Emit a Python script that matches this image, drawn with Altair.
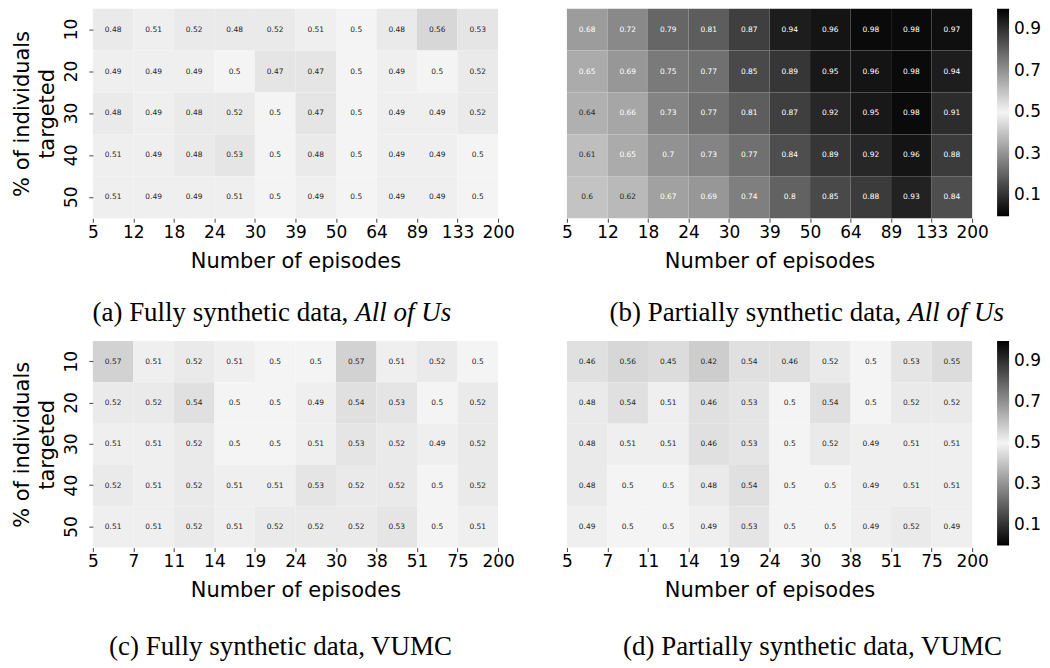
import altair as alt
import pandas as pd

row_labels = ["10", "20", "30", "40", "50"]

x_labels_top = ["5", "12", "18", "24", "30", "39", "50", "64", "89", "133", "200"]
x_labels_bottom = ["5", "7", "11", "14", "19", "24", "30", "38", "51", "75", "200"]

vals_a = [
    [0.48, 0.51, 0.52, 0.48, 0.52, 0.51, 0.5, 0.48, 0.56, 0.53],
    [0.49, 0.49, 0.49, 0.5, 0.47, 0.47, 0.5, 0.49, 0.5, 0.52],
    [0.48, 0.49, 0.48, 0.52, 0.5, 0.47, 0.5, 0.49, 0.49, 0.52],
    [0.51, 0.49, 0.48, 0.53, 0.5, 0.48, 0.5, 0.49, 0.49, 0.5],
    [0.51, 0.49, 0.49, 0.51, 0.5, 0.49, 0.5, 0.49, 0.49, 0.5],
]
vals_b = [
    [0.68, 0.72, 0.79, 0.81, 0.87, 0.94, 0.96, 0.98, 0.98, 0.97],
    [0.65, 0.69, 0.75, 0.77, 0.85, 0.89, 0.95, 0.96, 0.98, 0.94],
    [0.64, 0.66, 0.73, 0.77, 0.81, 0.87, 0.92, 0.95, 0.98, 0.91],
    [0.61, 0.65, 0.7, 0.73, 0.77, 0.84, 0.89, 0.92, 0.96, 0.88],
    [0.6, 0.62, 0.67, 0.69, 0.74, 0.8, 0.85, 0.88, 0.93, 0.84],
]
vals_c = [
    [0.57, 0.51, 0.52, 0.51, 0.5, 0.5, 0.57, 0.51, 0.52, 0.5],
    [0.52, 0.52, 0.54, 0.5, 0.5, 0.49, 0.54, 0.53, 0.5, 0.52],
    [0.51, 0.51, 0.52, 0.5, 0.5, 0.51, 0.53, 0.52, 0.49, 0.52],
    [0.52, 0.51, 0.52, 0.51, 0.51, 0.53, 0.52, 0.52, 0.5, 0.52],
    [0.51, 0.51, 0.52, 0.51, 0.52, 0.52, 0.52, 0.53, 0.5, 0.51],
]
vals_d = [
    [0.46, 0.56, 0.45, 0.42, 0.54, 0.46, 0.52, 0.5, 0.53, 0.55],
    [0.48, 0.54, 0.51, 0.46, 0.53, 0.5, 0.54, 0.5, 0.52, 0.52],
    [0.48, 0.51, 0.51, 0.46, 0.53, 0.5, 0.52, 0.49, 0.51, 0.51],
    [0.48, 0.5, 0.5, 0.48, 0.54, 0.5, 0.5, 0.49, 0.51, 0.51],
    [0.49, 0.5, 0.5, 0.49, 0.53, 0.5, 0.5, 0.49, 0.52, 0.49],
]

legend_values = [0.1, 0.3, 0.5, 0.7, 0.9]

SANS = "DejaVu Sans"
SERIF = "Liberation Serif"
W = 406


def panel(vals, xlabels, height, show_y, show_legend, cap_parts, cap_x, cap_y):
    recs = []
    for r, rowvals in zip(row_labels, vals):
        for c, v in enumerate(rowvals):
            recs.append({"row": r, "col": c, "v": v})
    df = pd.DataFrame(recs)
    label_expr = "[" + ",".join("'%s'" % l for l in xlabels) + "][datum.value]"

    x = alt.X(
        "col:Q",
        scale=alt.Scale(domain=[0, len(xlabels) - 1], nice=False, zero=False),
        axis=alt.Axis(
            values=list(range(len(xlabels))),
            labelExpr=label_expr,
            title="Number of episodes",
            labelFlush=False,
            grid=False,
            domain=False,
            tickSize=4,
            tickColor="#444",
            labelPadding=2,
            labelFontSize=17,
            titleFontSize=21,
            titlePadding=10,
        ),
    )
    if show_y:
        yaxis = alt.Axis(
            title=["% of individuals", "targeted"],
            labelAngle=270,
            domain=False,
            tickSize=4,
            tickColor="#444",
            labelPadding=8,
            labelFontSize=17,
            titleFontSize=21,
            titleLineHeight=25,
            titlePadding=5,
        )
    else:
        yaxis = None
    y = alt.Y("row:O", sort=row_labels, scale=alt.Scale(paddingInner=0, paddingOuter=0), axis=yaxis)

    if show_legend:
        legend = alt.Legend(
            title=None,
            orient="right",
            direction="vertical",
            values=legend_values,
            gradientLength=height - 2,
            gradientThickness=12,
            gradientStrokeWidth=0,
            labelFontSize=17,
            labelFont=SANS,
            labelColor="black",
            labelOffset=5,
            labelOverlap=False,
            offset=25,
            padding=0,
        )
    else:
        legend = None

    color = alt.Color(
        "v:Q",
        scale=alt.Scale(domain=[0, 0.5, 1], range=["#000000", "#f4f4f4", "#000000"], interpolate="rgb"),
        legend=legend,
    )

    base = alt.Chart(df).transform_calculate(col2="datum.col + 1", xc="datum.col + 0.5")
    rect = base.mark_rect().encode(x=x, x2="col2:Q", y=y, color=color)
    txt = base.mark_text(fontSize=7.5, font=SANS).encode(
        x="xc:Q",
        y=alt.Y("row:O", sort=row_labels),
        text=alt.Text("v:Q", format=".2~f"),
        color=alt.condition("abs(datum.v - 0.5) > 0.145", alt.value("white"), alt.value("#262626")),
    )
    layers = [rect, txt]
    if len(cap_parts) == 2:
        plain = alt.Chart(pd.DataFrame({"t": [cap_parts[0]]})).mark_text(
            align="right", baseline="alphabetic", font=SERIF, fontSize=27, color="black"
        ).encode(text="t:N", x=alt.value(cap_x), y=alt.value(cap_y))
        ital = alt.Chart(pd.DataFrame({"t": [cap_parts[1]]})).mark_text(
            align="left", baseline="alphabetic", font=SERIF, fontSize=27, fontStyle="italic",
            color="black", dx=7
        ).encode(text="t:N", x=alt.value(cap_x), y=alt.value(cap_y))
        layers += [plain, ital]
    else:
        plain = alt.Chart(pd.DataFrame({"t": [cap_parts[0]]})).mark_text(
            align="center", baseline="alphabetic", font=SERIF, fontSize=27, color="black"
        ).encode(text="t:N", x=alt.value(cap_x), y=alt.value(cap_y))
        layers += [plain]
    return alt.layer(*layers).properties(width=W, height=height)


pa = panel(vals_a, x_labels_top, 210, True, False,
           ["(a) Fully synthetic data,", "All of Us"], 256, 313)
pb = panel(vals_b, x_labels_top, 210, False, True,
           ["(b) Partially synthetic data,", "All of Us"], 335, 313)
pc = panel(vals_c, x_labels_bottom, 207, True, False,
           ["(c) Fully synthetic data, VUMC"], 188, 315)
pd_ = panel(vals_d, x_labels_bottom, 207, False, True,
            ["(d) Partially synthetic data, VUMC"], 246, 315)

top = alt.hconcat(pa, pb, spacing=46).resolve_scale(color="independent")
bottom = alt.hconcat(pc, pd_, spacing=46).resolve_scale(color="independent")

chart = alt.vconcat(top, bottom, spacing=15).resolve_scale(color="independent").properties(
    padding={"left": 4, "top": 0, "right": 0, "bottom": 0}
).configure_view(stroke=None).configure_axis(
    labelFont=SANS, titleFont=SANS, labelColor="black", titleColor="black", titleFontWeight="normal"
)

chart.save("out.html", embed_options={"renderer": "svg", "actions": False})
